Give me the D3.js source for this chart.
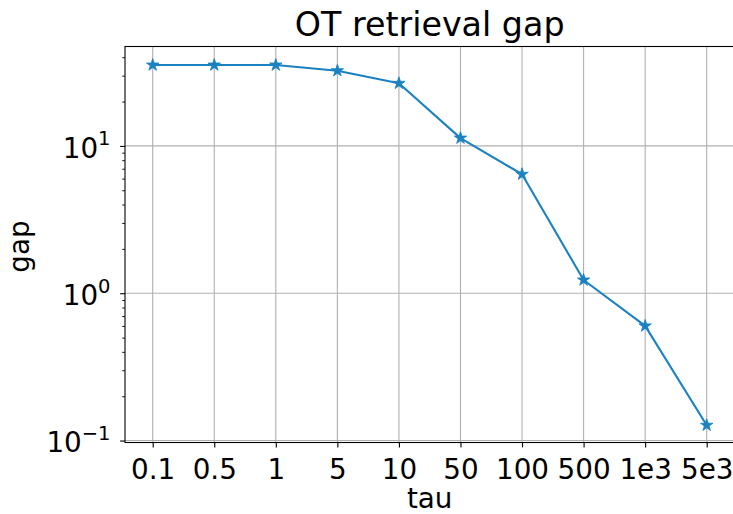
<!DOCTYPE html>
<html>
<head>
<meta charset="utf-8">
<script src="https://cdn.jsdelivr.net/npm/d3@7"></script>
<style>
  html, body { margin: 0; padding: 0; background: #fff; }
  svg { display: block; }
  text { font-family: "DejaVu Sans", sans-serif; fill: #000; }
</style>
</head>
<body>
<svg id="chart" width="733" height="514"></svg>
<script>
// ---- data ----
const categories = ["0.1", "0.5", "1", "5", "10", "50", "100", "500", "1e3", "5e3"];
const gapValues = [35.4, 35.4, 35.4, 32.4, 26.6, 11.3, 6.42, 1.23, 0.6, 0.127];
const yTickExps = [-1, 0, 1];
const titleText = "OT retrieval gap";
const xLabel = "tau";
const yLabel = "gap";

// ---- layout ----
const W = 733, H = 514;
const L = 125, R = 734.4, T = 46.5, B = 442.5;
const color = "#1b82c2";
const gridColor = "#b0b0b0";

const svg = d3.select("#chart");

const x = d3.scalePoint().domain(categories).range([L, R]).padding(0.45);
const y = d3.scaleLog().domain([0.097, 47.3]).range([B, T]);

// grid
const g = svg.append("g");
g.selectAll("line.vg").data(categories).join("line")
  .attr("x1", d => x(d)).attr("x2", d => x(d))
  .attr("y1", T).attr("y2", B)
  .attr("stroke", gridColor).attr("stroke-width", 1.1);
g.selectAll("line.hg").data(yTickExps).join("line")
  .attr("x1", L).attr("x2", R)
  .attr("y1", d => y(Math.pow(10, d))).attr("y2", d => y(Math.pow(10, d)))
  .attr("stroke", gridColor).attr("stroke-width", 1.1);

// x axis
const xAxis = d3.axisBottom(x).tickSize(4.9).tickPadding(4.5);
const xg = svg.append("g").attr("transform", `translate(0,${B})`).call(xAxis);
xg.select(".domain").remove();
xg.selectAll(".tick line").attr("stroke", "#000").attr("stroke-width", 1.1);
xg.selectAll(".tick text").attr("font-size", "27.8px").attr("fill", "#000")
  .attr("font-family", "DejaVu Sans, sans-serif").attr("dy", null).attr("y", 36.5);

// y axis: minor ticks
const minorVals = [];
for (let e = -2; e <= 1; e++) {
  for (let m = 2; m <= 9; m++) {
    const v = m * Math.pow(10, e);
    if (v >= y.domain()[0] && v <= y.domain()[1]) minorVals.push(v);
  }
}
const yg = svg.append("g").attr("transform", `translate(${L},0)`);
const yMinor = d3.axisLeft(y).tickValues(minorVals).tickSize(2.8).tickFormat("");
const ymg = yg.append("g").call(yMinor);
ymg.select(".domain").remove();
ymg.selectAll(".tick line").attr("stroke", "#000").attr("stroke-width", 0.9);

const yMajor = d3.axisLeft(y).tickValues(yTickExps.map(e => Math.pow(10, e))).tickSize(4.9).tickFormat("");
const yMg = yg.append("g").call(yMajor);
yMg.select(".domain").remove();
yMg.selectAll(".tick line").attr("stroke", "#000").attr("stroke-width", 1.1);

// y tick labels with superscripts
const yl = svg.append("g");
yTickExps.forEach(e => {
  const ty = y(Math.pow(10, e));
  const t = yl.append("text")
    .attr("x", 110.5).attr("y", ty + 11.6)
    .attr("text-anchor", "end").attr("font-size", "27.8px");
  t.append("tspan").text("10");
  t.append("tspan").attr("dy", -12.3).attr("font-size", "19.5px")
    .text(e < 0 ? "\u2212" + Math.abs(e) : String(e));
});

// spines
svg.append("rect")
  .attr("x", L).attr("y", T).attr("width", R - L).attr("height", B - T)
  .attr("fill", "none").attr("stroke", "#000").attr("stroke-width", 1.1);

// line + markers
const data = categories.map((c, i) => ({ c, v: gapValues[i] }));
svg.append("path").datum(data)
  .attr("fill", "none").attr("stroke", color).attr("stroke-width", 2.1)
  .attr("stroke-linejoin", "round")
  .attr("d", d3.line().x(d => x(d.c)).y(d => y(d.v)));

const star = d3.symbol().type(d3.symbolStar).size(48);
svg.selectAll("path.pt").data(data).join("path")
  .attr("class", "pt")
  .attr("transform", d => `translate(${x(d.c)},${y(d.v)})`)
  .attr("d", star).attr("fill", color).attr("stroke", color).attr("stroke-width", 0.8);

// title and labels
svg.append("text").attr("x", (L + R) / 2).attr("y", 36)
  .attr("text-anchor", "middle").attr("font-size", "33.3px").text(titleText);
svg.append("text").attr("x", (L + R) / 2).attr("y", 508)
  .attr("text-anchor", "middle").attr("font-size", "27.8px").text(xLabel);
svg.append("text").attr("transform", `translate(28.5,${(T + B) / 2 + 2}) rotate(-90)`)
  .attr("text-anchor", "middle").attr("font-size", "27.8px").text(yLabel);
</script>
</body>
</html>
